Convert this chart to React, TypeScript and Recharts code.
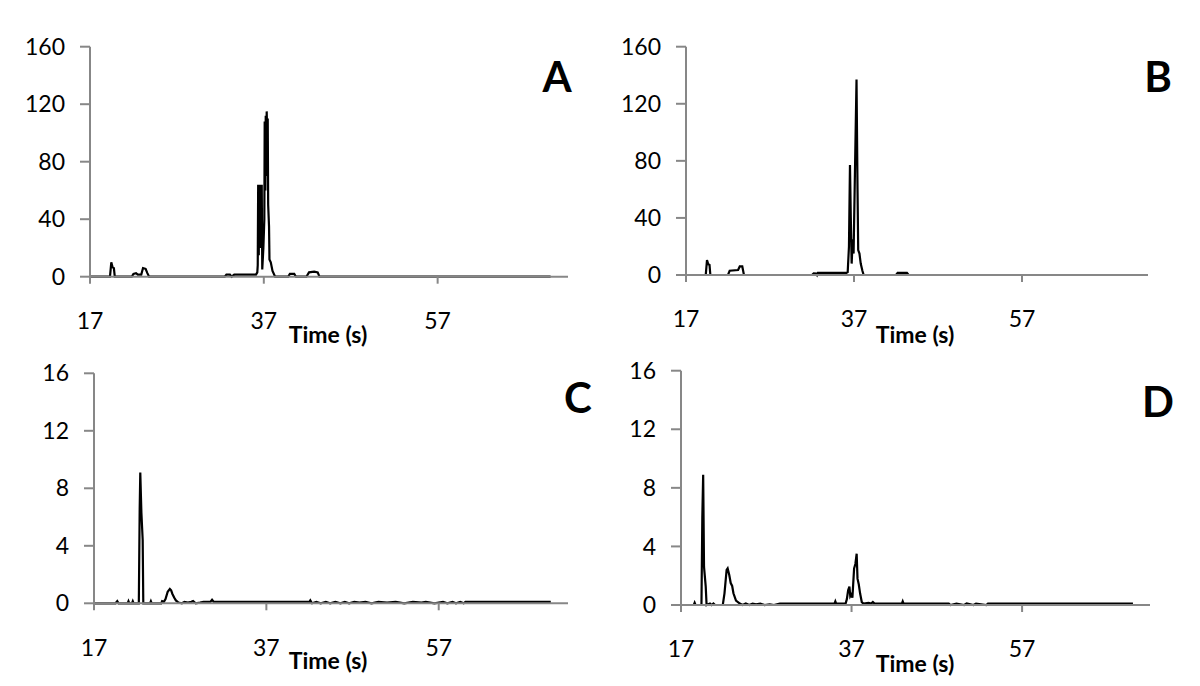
import { LineChart, Line, XAxis, YAxis } from "recharts";

// [time (s), signal]
const panelA: [number, number][] = [
  [17, 0], [19.3, 0], [19.45, 10], [19.6, 6.5], [19.75, 6], [19.85, 0],
  [21.8, 0], [22.0, 2], [22.3, 2.5], [22.5, 1.5], [22.9, 1.5], [23.1, 6], [23.4, 5.5], [23.6, 2.5], [23.8, 0],
  [32.5, 0], [32.7, 1.5], [33.1, 1.5], [33.3, 0], [33.6, 1.5], [36.1, 1.5], [36.25, 3], [36.3, 8],
  [36.35, 64], [36.42, 15], [36.48, 64], [36.55, 20], [36.62, 64], [36.7, 22], [36.76, 64], [36.82, 5],
  [36.95, 20], [37.06, 40], [37.1, 108], [37.18, 60], [37.22, 112], [37.28, 70], [37.33, 115], [37.4, 95],
  [37.45, 110], [37.5, 50], [37.6, 35], [37.65, 12], [37.8, 10], [38.0, 4], [38.3, 0],
  [39.8, 0], [40.0, 2], [40.5, 2], [40.7, 0], [41.9, 0], [42.2, 3], [42.8, 3.5], [43.2, 3], [43.4, 0],
  [70, 0],
];

const panelB: [number, number][] = [
  [17, 0], [19.35, 0], [19.5, 10.5], [19.65, 7.5], [19.8, 7], [19.9, 0],
  [22.0, 0], [22.2, 3], [23.2, 3.5], [23.4, 6], [23.7, 6], [23.9, 0],
  [32.0, 0], [32.2, 1.2], [32.5, 1], [32.6, 0], [32.7, 1.5], [36.1, 1.5], [36.25, 2],
  [36.4, 20], [36.52, 77], [36.62, 40], [36.72, 8], [36.85, 25], [36.95, 15],
  [37.3, 137], [37.42, 60], [37.5, 17.5], [37.65, 15], [37.8, 8], [38.0, 3], [38.15, 0],
  [42.0, 0], [42.2, 1.5], [43.3, 1.5], [43.5, 0], [70, 0],
];

const panelC: [number, number][] = [
  [17, 0], [19.5, 0], [19.7, 0.15], [19.85, 0], [20.9, 0], [21.0, 0.15], [21.1, 0], [21.4, 0], [21.5, 0.15], [21.6, 0],
  [22.2, 0], [22.3, 6.5], [22.37, 9.1], [22.5, 6.3], [22.65, 4.4], [22.72, 0],
  [23.5, 0], [23.6, 0.15], [23.7, 0], [24.8, 0], [24.9, 0.15], [25.1, 0.1], [25.3, 0.3], [25.55, 0.8],
  [25.8, 1.0], [25.95, 0.9], [26.1, 0.65], [26.3, 0.4], [26.5, 0.2], [26.8, 0.05], [27.2, 0],
  [27.5, 0.1], [27.9, 0.05], [28.3, 0.1], [28.5, 0.15], [28.8, 0], [29.3, 0.05], [29.7, 0.1],
  [30.5, 0.1], [30.7, 0.25], [30.9, 0.1], [42.0, 0.1], [42.1, 0.2], [42.3, 0], [42.8, 0.1], [43.3, 0],
  [43.9, 0.1], [44.4, 0], [45.0, 0.1], [45.6, 0], [46.1, 0.1], [46.6, 0], [47.2, 0.1], [47.8, 0.05],
  [48.5, 0.1], [49.2, 0], [50.0, 0.1], [51.0, 0.05], [52.0, 0.1], [53.0, 0], [54.0, 0.1], [55.0, 0.05],
  [55.5, 0.1], [56.5, 0], [57.5, 0.1], [58.0, 0], [58.6, 0.1], [59.0, 0], [59.5, 0.1], [59.9, 0],
  [60.1, 0.1], [70, 0.1],
];

const panelD: [number, number][] = [
  [17, 0], [18.5, 0], [18.6, 0.15], [18.7, 0], [19.4, 0], [19.5, 6], [19.6, 8.9], [19.7, 2.6], [19.9, 1.25], [20.0, 0],
  [20.4, 0.1], [20.6, 0], [20.8, 0.1], [21.0, 0], [21.9, 0], [22.1, 0.8], [22.35, 2.4], [22.47, 2.5],
  [22.66, 2.05], [22.83, 1.5], [23.0, 1.3], [23.15, 0.8], [23.45, 0.3], [23.9, 0.1], [24.2, 0],
  [24.6, 0.1], [25.0, 0], [25.4, 0.1], [25.8, 0.05], [26.3, 0.1], [26.8, 0], [27.4, 0.05], [27.9, 0],
  [28.6, 0.1], [35.0, 0.1], [35.1, 0.25], [35.2, 0.1], [36.3, 0.1], [36.45, 0.4], [36.6, 1.0],
  [36.75, 1.25], [36.85, 0.6], [36.95, 0.7], [37.1, 0.5], [37.3, 2.5], [37.45, 2.8], [37.6, 3.5],
  [37.7, 1.8], [37.85, 1.4], [38.0, 0.8], [38.2, 0.2], [38.4, 0.1], [39.0, 0.15], [39.3, 0.1],
  [39.5, 0.2], [39.7, 0.1], [42.9, 0.1], [43.0, 0.25], [43.1, 0.1], [48.4, 0.1], [48.6, 0],
  [49.3, 0.1], [50.2, 0], [50.5, 0.1], [51.3, 0], [51.6, 0.1], [52.8, 0], [53.0, 0.1], [70, 0.1],
];

const timeTicks = [17, 37, 57];
const bigTicks = [0, 40, 80, 120, 160];
const smallTicks = [0, 4, 8, 12, 16];

const AXIS = "#878787";
const FONT = "Lato, 'Open Sans', sans-serif";
const Y_W = 60;
const X_H = 60;

type Box = { left: number; top: number; width: number; height: number };
type Plot = { x0: number; x1: number; y0: number; y1: number };

function Panel({ points, ticks, box, plot }: { points: [number, number][]; ticks: number[]; box: Box; plot: Plot }) {
  const data = points.map(([t, v]) => ({ t, v }));
  const margin = {
    top: plot.y0 - box.top,
    right: box.left + box.width - plot.x1,
    bottom: box.top + box.height - plot.y1 - X_H,
    left: plot.x0 - box.left - Y_W,
  };
  return (
    <div style={{ position: "absolute", left: box.left, top: box.top }}>
      <LineChart width={box.width} height={box.height} data={data} margin={margin}>
        <XAxis
          dataKey="t"
          type="number"
          domain={[17, 72]}
          ticks={timeTicks}
          allowDataOverflow
          height={X_H}
          axisLine={{ stroke: AXIS, strokeWidth: 2 }}
          tickLine={{ stroke: AXIS, strokeWidth: 2 }}
          tickSize={7}
          tickMargin={29}
          tick={{ fill: "#000", fontSize: 23, fontFamily: FONT }}
        />
        <YAxis
          type="number"
          domain={[0, ticks[ticks.length - 1]]}
          ticks={ticks}
          width={Y_W}
          axisLine={{ stroke: AXIS, strokeWidth: 2 }}
          tickLine={{ stroke: AXIS, strokeWidth: 2 }}
          tickSize={10}
          tickMargin={15}
          tick={{ fill: "#000", fontSize: 23, fontFamily: FONT }}
        />
        <Line
          type="linear"
          dataKey="v"
          stroke="#000"
          strokeWidth={2.2}
          dot={false}
          isAnimationActive={false}
        />
      </LineChart>
    </div>
  );
}

export default function App() {
  const title = { fontFamily: FONT, fontWeight: 700, fill: "#000" } as const;
  return (
    <div style={{ position: "absolute", left: 0, top: 0, width: 1200, height: 686, background: "#fff" }}>
      <Panel points={panelA} ticks={bigTicks} box={{ left: 0, top: 0, width: 600, height: 350 }} plot={{ x0: 90, x1: 568, y0: 46.7, y1: 276.7 }} />
      <Panel points={panelB} ticks={bigTicks} box={{ left: 600, top: 0, width: 600, height: 350 }} plot={{ x0: 686, x1: 1148, y0: 46.7, y1: 275 }} />
      <Panel points={panelC} ticks={smallTicks} box={{ left: 0, top: 340, width: 600, height: 346 }} plot={{ x0: 94, x1: 568, y0: 373.3, y1: 603.3 }} />
      <Panel points={panelD} ticks={smallTicks} box={{ left: 600, top: 340, width: 600, height: 346 }} plot={{ x0: 681, x1: 1150, y0: 370.7, y1: 605 }} />
      <svg width={1200} height={686} style={{ position: "absolute", left: 0, top: 0, pointerEvents: "none" }}>
        <text x={328} y={343} textAnchor="middle" fontSize={23} {...title}>Time (s)</text>
        <text x={915} y={343} textAnchor="middle" fontSize={23} {...title}>Time (s)</text>
        <text x={328} y={669} textAnchor="middle" fontSize={23} {...title}>Time (s)</text>
        <text x={915} y={672} textAnchor="middle" fontSize={23} {...title}>Time (s)</text>
        <text x={557} y={92} textAnchor="middle" fontSize={42} {...title}>A</text>
        <text x={1158} y={92} textAnchor="middle" fontSize={42} {...title}>B</text>
        <text x={578} y={413} textAnchor="middle" fontSize={42} {...title}>C</text>
        <text x={1158} y={417} textAnchor="middle" fontSize={42} {...title}>D</text>
      </svg>
    </div>
  );
}
